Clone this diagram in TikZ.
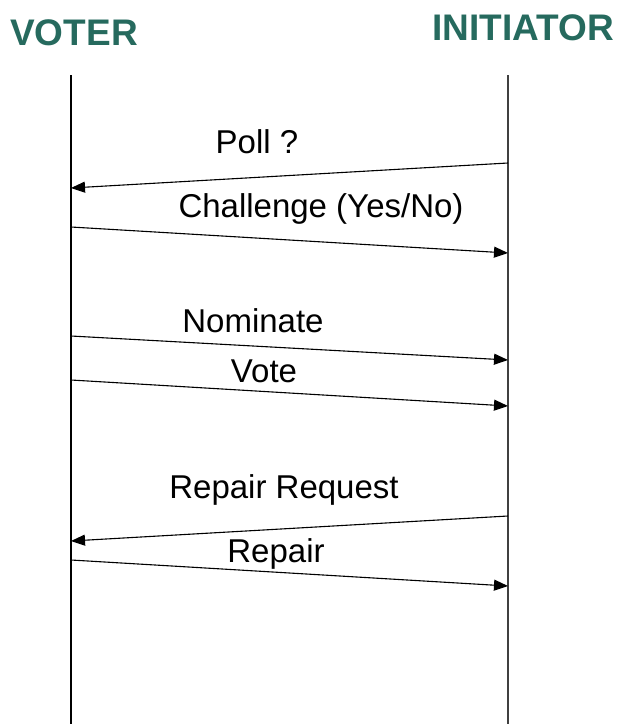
\documentclass[tikz,border=0pt]{standalone}
\usepackage{fontspec}
\setmainfont{Liberation Sans}
\usepackage{xcolor}
\usetikzlibrary{arrows.meta,positioning}
\definecolor{teal}{RGB}{38,106,94}
\tikzset{%
	actor/.style    = {text=teal, font=\fontsize{37}{40}\selectfont\bfseries, anchor=base, inner sep=0pt}, % Header
	lifeline/.style = {line width=2pt},
	msg/.style      = {line width=1.1pt, -{Triangle[length=14pt,width=11pt]}},
	label/.style    = {font=\fontsize{33}{36}\selectfont, anchor=base, inner sep=0pt},
}

\begin{document}
\begin{tikzpicture}[x=1pt,y=-1pt]
	\useasboundingbox (0,0) rectangle (624,724);
	\node[actor] (voter) at (74,45) {VOTER};
	\node[actor] (init) at (523,40) {INITIATOR};
	% lifelines
	\coordinate (vtop) at (71,75);
	\coordinate (vbot) at (71,724);
	\coordinate (itop) at (508,75);
	\coordinate (ibot) at (508,724);
	\draw[lifeline] (vtop) -- (vbot);
	\draw[lifeline,line width=1.5pt,black!75] (itop) -- (ibot);
	% message ends
	\coordinate (i1) at (508,163);  \coordinate (v1) at (71,188);
	\coordinate (v2) at (71,227);   \coordinate (i2) at (508,253);
	\coordinate (v3) at (71,336);   \coordinate (i3) at (508,360);
	\coordinate (v4) at (71,380);   \coordinate (i4) at (508,406);
	\coordinate (i5) at (508,516);  \coordinate (v5) at (71,541);
	\coordinate (v6) at (71,560);   \coordinate (i6) at (508,586);
	\draw[msg] (i1) -- (v1);
	\draw[msg] (v2) -- (i2);
	\draw[msg] (v3) -- (i3);
	\draw[msg] (v4) -- (i4);
	\draw[msg] (i5) -- (v5);
	\draw[msg] (v6) -- (i6);
	% labels
	\node[label] (poll) at (257,153) {Poll ?};
	\node[label] (chal) at (321,217) {Challenge (Yes/No)};
	\node[label] (nom) at (253,332) {Nominate};
	\node[label] (vote) at (264,382) {Vote};
	\node[label] (rreq) at (284,498) {Repair Request};
	\node[label] (rep) at (276,562) {Repair};
\end{tikzpicture}
\end{document}
